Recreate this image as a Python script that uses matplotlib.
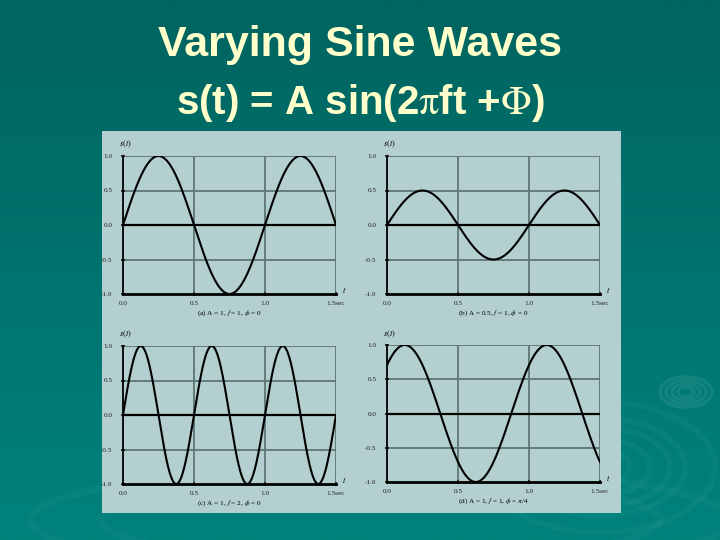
import numpy as np
import matplotlib
matplotlib.use('Agg')
import matplotlib.pyplot as plt
from matplotlib.patches import Rectangle, Ellipse

# wave parameters
amps = [1.0, 0.5, 1.0, 1.0]
freqs = [1.0, 1.0, 2.0, 1.0]
phases = [0.0, 0.0, 0.0, np.pi / 4]
captions = ['(a) A = 1, $f$ = 1, $\\phi$ = 0',
            '(b) A = 0.5, $f$ = 1, $\\phi$ = 0',
            '(c) A = 1, $f$ = 2, $\\phi$ = 0',
            '(d) A = 1, $f$ = 1, $\\phi$ = $\\pi$/4']
xticks = [0.0, 0.5, 1.0, 1.5]
xticklabels = ['0.0', '0.5', '1.0', '1.5sec']
yticks = [-1.0, -0.5, 0.0, 0.5, 1.0]
yticklabels = ['-1.0', '-0.5', '0.0', '0.5', '1.0']

title1 = 'Varying Sine Waves'
title2 = 's(t) = A sin(2$\\mathrm{\\pi}$ft +$\\mathrm{\\Phi}$)'

panel_bg = '#b3cfcf'
grid_c = '#5f7676'
txt_c = '#ffffcc'

matplotlib.rcParams['mathtext.fontset'] = 'stix'

fig = plt.figure(figsize=(7.2, 5.4), dpi=100)

# teal slide background
bg = fig.add_axes([0, 0, 1, 1])
grad = np.linspace(0, 1, 256).reshape(-1, 1)
cm = matplotlib.colors.LinearSegmentedColormap.from_list('slide', ['#006460', '#00827c'])
bg.imshow(grad, aspect='auto', cmap=cm, extent=[0, 720, 540, 0])
bg.set_xlim(0, 720)
bg.set_ylim(540, 0)
bg.axis('off')
# faint ripples
for w in [16, 28, 40, 52]:
    bg.add_patch(Ellipse((686, 392), w, w * 0.58, fill=False,
                         ec='#ffffff', alpha=0.08, lw=2.5))
for w in [60, 100, 140, 170, 230]:
    bg.add_patch(Ellipse((600, 467), w, w * 0.57, fill=False,
                         ec='#ffffff', alpha=0.035, lw=4))
for w in [560, 700]:
    bg.add_patch(Ellipse((380, 520), w, w * 0.15, fill=False,
                         ec='#ffffff', alpha=0.03, lw=5))
bg.add_patch(Rectangle((102, 131), 519, 382, fc=panel_bg, ec='none', zorder=3))

fig.text(0.5, 1 - 56 / 540, title1, ha='center', va='baseline', fontsize=31,
         color=txt_c, family='Liberation Sans', weight='bold')
fig.text(0.5, 1 - 114 / 540, title2, ha='center', va='baseline', fontsize=29,
         color=txt_c, family='Liberation Sans', weight='bold')

t = np.linspace(0, 1.5, 600)
pos = [(123, 156, 294), (387, 156, 294), (123, 346, 484), (387, 345, 482)]

for ii in range(4):
    x0, ytop, ybot = pos[ii]
    ax = fig.add_axes([x0 / 720, 1 - ybot / 540, 213 / 720, (ybot - ytop) / 540])
    ax.patch.set_alpha(0)
    s = amps[ii] * np.sin(2 * np.pi * freqs[ii] * t + phases[ii])
    for xv in [0.5, 1.0, 1.5]:
        ax.axvline(xv, color=grid_c, lw=1.3, zorder=1)
    for yv in [0.5, -0.5, 1.0]:
        ax.axhline(yv, color=grid_c, lw=1.3, zorder=1)
    ax.axhline(0, color='black', lw=1.6, zorder=2)
    ax.plot(t, s, color='black', lw=1.5, zorder=3)
    ax.set_xlim(0, 1.5)
    ax.set_ylim(-1, 1)
    for side in ['top', 'right']:
        ax.spines[side].set_visible(False)
    ax.spines['bottom'].set_linewidth(2)
    ax.spines['left'].set_linewidth(1.3)
    ax.set_xticks(xticks)
    ax.set_xticklabels(xticklabels)
    ax.set_yticks(yticks)
    ax.set_yticklabels(yticklabels)
    ax.tick_params(axis='y', pad=6)
    ax.tick_params(labelsize=5.2, length=3, width=1.3, direction='inout',
                   labelfontfamily='Liberation Serif', colors='#222222')
    ax.text(-0.02, 1.08, '$s(t)$', transform=ax.transAxes, fontsize=6,
            ha='left', va='center')
    ax.text(1.04, 0.03, '$t$', transform=ax.transAxes, fontsize=6,
            ha='center', va='center')
    ax.text(0.5, -0.14, captions[ii], transform=ax.transAxes, fontsize=5.2,
            ha='center', va='center', family='Liberation Serif')

fig.savefig('out.png', dpi=100)
